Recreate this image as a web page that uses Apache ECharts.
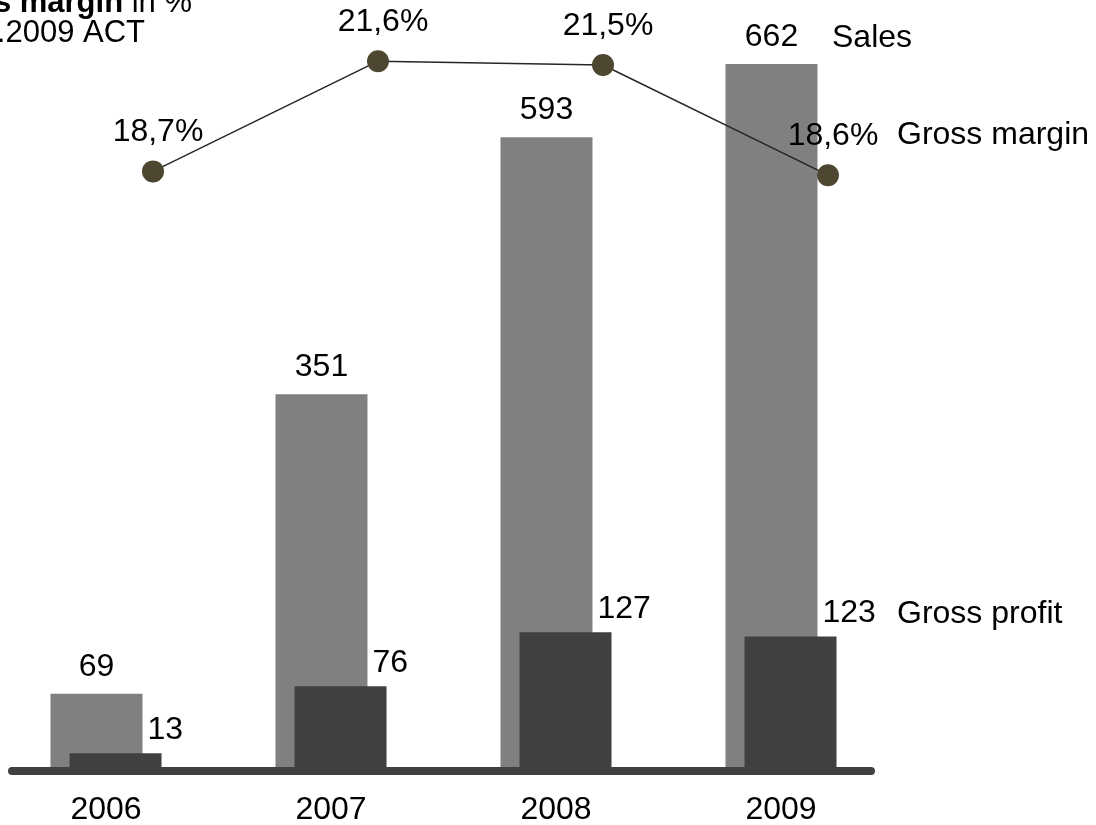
<!DOCTYPE html>
<html>
<head>
<meta charset="utf-8">
<script src="https://cdn.jsdelivr.net/npm/echarts@6/dist/echarts.min.js"></script>
<style>
html,body{margin:0;padding:0;background:#fff;}
#chart{width:1096px;height:825px;}
</style>
</head>
<body>
<div id="chart"></div>
<script>
const categories = ['2006', '2007', '2008', '2009'];
const sales = [69, 351, 593, 662];
const grossProfit = [13, 76, 127, 123];
const grossMargin = [18.7, 21.6, 21.5, 18.6];
const seriesNames = ['Sales', 'Gross profit', 'Gross margin'];
const titleLines = ['Gross margin', ' in %', '2006..2009 ACT'];

const FONT = '"Liberation Sans", Arial, sans-serif';
const FS = 32;
const TFS = 31;

const chart = echarts.init(document.getElementById('chart'), null, {renderer: 'canvas'});

function txt(text, x, y, align, size) {
  return {
    type: 'text',
    style: {
      text: text, x: x, y: y,
      font: (size || FS) + 'px ' + FONT,
      fill: '#000',
      align: align, textAlign: align,
      verticalAlign: 'bottom', textVerticalAlign: 'bottom'
    }
  };
}

const option = {
  animation: false,
  backgroundColor: '#fff',
  textStyle: {fontFamily: FONT},
  grid: [
    {left: -6.5, width: 900, top: 23.7, bottom: 58, outerBoundsMode: 'none', containLabel: false},
    {left: 40.5, width: 900, top: 8, height: 228, outerBoundsMode: 'none', containLabel: false},
    {left: 12, width: 859, top: 23.7, bottom: 54, outerBoundsMode: 'none', containLabel: false}
  ],
  xAxis: [
    {gridIndex: 0, type: 'category', data: categories,
     axisLine: {show: false}, axisTick: {show: false},
     axisLabel: {fontSize: FS, color: '#000', margin: 27, fontFamily: FONT}},
    {gridIndex: 1, type: 'category', data: categories, show: false},
    {gridIndex: 2, type: 'category', data: categories,
     axisLine: {show: true, lineStyle: {color: '#404040', width: 8}},
     axisTick: {show: false}, axisLabel: {show: false}}
  ],
  yAxis: [
    {gridIndex: 0, type: 'value', min: 0, max: 700, show: false},
    {gridIndex: 1, type: 'value', min: 17, max: 23, show: false},
    {gridIndex: 2, type: 'value', min: 0, max: 1, show: false}
  ],
  series: [
    {
      name: seriesNames[0], type: 'bar', xAxisIndex: 0, yAxisIndex: 0,
      data: sales, barWidth: 92, barGap: '-79.3%',
      itemStyle: {color: '#808080'},
      label: {show: true, position: 'top', distance: 11, fontSize: FS, color: '#000', fontFamily: FONT}
    },
    {
      name: seriesNames[1], type: 'bar', xAxisIndex: 0, yAxisIndex: 0,
      data: grossProfit, barWidth: 92, barGap: '-79.3%',
      itemStyle: {color: '#404040'},
      label: {show: true, position: [78, -7], align: 'left', verticalAlign: 'bottom',
              fontSize: FS, color: '#000', fontFamily: FONT}
    },
    {
      name: seriesNames[2], type: 'line', xAxisIndex: 1, yAxisIndex: 1,
      data: grossMargin, symbol: 'circle', symbolSize: 22,
      itemStyle: {color: '#4d4731'},
      lineStyle: {color: '#262626', width: 1.5},
      label: {show: true, position: 'top', distance: 12, offset: [5, 0],
              fontSize: FS, color: '#000', fontFamily: FONT,
              formatter: p => p.value.toFixed(1).replace('.', ',') + '%'}
    }
  ],
  graphic: [
    txt(seriesNames[0], 832, 54, 'left'),
    txt(seriesNames[2], 897, 151, 'left'),
    txt(seriesNames[1], 897, 630, 'left'),
    {
      type: 'text',
      style: {
        text: '{b|' + titleLines[0] + '}' + titleLines[1],
        x: 192, y: 19,
        font: TFS + 'px ' + FONT, fill: '#000',
        align: 'right', textAlign: 'right',
        verticalAlign: 'bottom', textVerticalAlign: 'bottom',
        rich: {b: {fontWeight: 'bold', fontSize: TFS, fontFamily: FONT, fill: '#000'}}
      }
    },
    txt(titleLines[2], 145, 49, 'right', TFS)
  ]
};
chart.setOption(option);
</script>
</body>
</html>
